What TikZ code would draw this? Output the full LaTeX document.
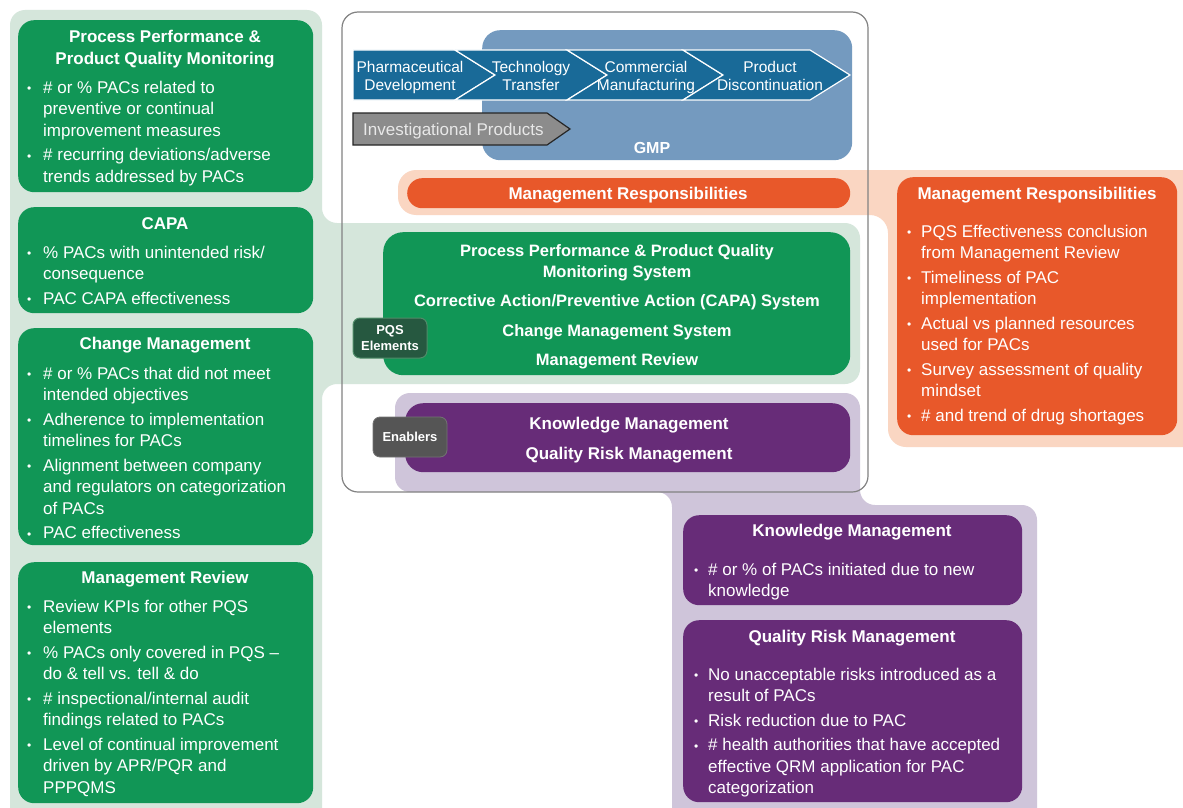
\documentclass[tikz,border=0pt]{standalone}
\usepackage{fontspec}
\setmainfont{Liberation Sans}
\definecolor{dgreen}{RGB}{17,150,86}
\definecolor{lgreen}{RGB}{213,230,219}
\definecolor{dorange}{RGB}{232,88,42}
\definecolor{lorange}{RGB}{250,214,194}
\definecolor{dpurple}{RGB}{103,44,120}
\definecolor{lpurple}{RGB}{207,197,218}
\definecolor{gmpblue}{RGB}{116,154,191}
\definecolor{chevblue}{RGB}{25,106,152}
\definecolor{pqsgreen}{RGB}{38,88,64}
\definecolor{pqsedge}{RGB}{80,140,105}
\definecolor{enagray}{RGB}{85,85,85}
\definecolor{framegray}{RGB}{130,130,130}
\definecolor{invgray}{RGB}{140,140,140}
\definecolor{invtext}{RGB}{232,232,232}
\newcommand{\bu}{\makebox[16pt][l]{\fontsize{12}{12}\selectfont\raisebox{0.5pt}{•}}}
\newcommand{\bur}{\makebox[14pt][l]{\fontsize{12}{12}\selectfont\raisebox{0.5pt}{•}}}
\tikzset{
  rbox/.style={rounded corners=#1, inner sep=0pt, anchor=north west, draw=none},
  wtxt/.style={text=white, inner sep=0pt, anchor=base},
  ttl/.style={wtxt, font=\bfseries\fontsize{17}{21}\selectfont},
  ctr/.style={wtxt, font=\bfseries\fontsize{16.5}{21}\selectfont},
  body/.style={text=white, inner sep=0pt, anchor=base west, font=\fontsize{17}{21.5}\selectfont},
  chevtxt/.style={wtxt, font=\fontsize{15.5}{18}\selectfont},
  chev/.style={fill=chevblue, draw=white, line width=1.2pt, line join=miter},
  tag/.style={rounded corners=7pt, inner sep=0pt, text=white, minimum width=74pt, minimum height=40pt, align=center, font=\bfseries\fontsize{13}{16}\selectfont}
}
\begin{document}
\begin{tikzpicture}[x=1pt,y=-1pt]
\useasboundingbox (0,0) rectangle (1183,808);
\clip (0,0) rectangle (1183,808);
\fill[white] (0,0) rectangle (1183,808);
% background bands
\fill[lgreen, rounded corners=15pt] (10,840) -- (10,10) -- (322,10) -- (322,223) -- (860,223) -- (860,384) -- (322,384) -- (322,840) -- cycle;
\fill[lorange, rounded corners=18pt] (398,170) -- (1210,170) -- (1210,447) -- (888,447) -- (888,215) -- (398,215) -- cycle;
\fill[lpurple, rounded corners=15pt] (395,393) -- (860,393) -- (860,505) -- (1037,505) -- (1037,840) -- (672,840) -- (672,492) -- (395,492) -- cycle;
% frame
\draw[framegray, line width=1.2pt, rounded corners=16pt] (342,12) rectangle (868,492);
% GMP
\node[rbox=18pt, fill=gmpblue, minimum width=370pt, minimum height=130pt] (gmp) at (482,30) {};
\node[wtxt, font=\bfseries\fontsize{16}{19}\selectfont] (gmpl) at (652,153) {GMP};
% chevrons
\path[chev] (353,50) -- (455,50) -- (495,75) -- (455,100) -- (353,100) -- cycle;
\path[chev] (455,50) -- (567,50) -- (607,75) -- (567,100) -- (455,100) -- (495,75) -- cycle;
\path[chev] (567,50) -- (683,50) -- (723,75) -- (683,100) -- (567,100) -- (607,75) -- cycle;
\path[chev] (683,50) -- (810,50) -- (850,75) -- (810,100) -- (683,100) -- (723,75) -- cycle;
\node[chevtxt] (c1) at (410,72.5) {\begin{tabular}[t]{@{}c@{}}Pharmaceutical\\Development\end{tabular}};
\node[chevtxt] (c2) at (531,72.5) {\begin{tabular}[t]{@{}c@{}}Technology\\Transfer\end{tabular}};
\node[chevtxt] (c3) at (646,72.5) {\begin{tabular}[t]{@{}c@{}}Commercial\\Manufacturing\end{tabular}};
\node[chevtxt] (c4) at (770,72.5) {\begin{tabular}[t]{@{}c@{}}Product\\Discontinuation\end{tabular}};
% investigational products
\path[fill=invgray, draw=black!85, line width=1.2pt] (353,113) -- (547,113) -- (570,129) -- (547,145) -- (353,145) -- cycle;
\node[inner sep=0pt, anchor=base west, text=invtext, font=\fontsize{17}{20}\selectfont] (inv) at (363,135) {Investigational Products};
% management responsibilities bar
\node[rbox=15pt, fill=dorange, minimum width=443pt, minimum height=30pt] (mrbar) at (407,178) {};
\node[ttl] (mrbarl) at (628,199) {Management Responsibilities};
% PQS elements box
\node[rbox=20pt, fill=dgreen, minimum width=467pt, minimum height=143pt] (pqs) at (383,232) {};
\node[ctr] (pqsl) at (617,256) {\begin{tabular}[t]{@{}c@{}}Process Performance \& Product Quality\\Monitoring System\\[8pt]Corrective Action/Preventive Action (CAPA) System\\[9pt]Change Management System\\[8pt]Management Review\end{tabular}};
\node[tag, fill=pqsgreen, draw=pqsedge, line width=1pt] (pqstag) at (390,338) {PQS\\Elements};
% enablers box
\node[rbox=18pt, fill=dpurple, minimum width=445pt, minimum height=69pt] (enab) at (405,403) {};
\node[ttl] (enabl) at (629,429) {\begin{tabular}[t]{@{}c@{}}Knowledge Management\\[9pt]Quality Risk Management\end{tabular}};
\node[tag, fill=enagray, draw=black!55, line width=0.8pt] (enabtag) at (410,437) {Enablers};
% left column boxes
\node[rbox=16pt, fill=dgreen, minimum width=295pt, minimum height=172pt] (b1) at (18,20) {};
\node[ttl] (b1t) at (165,43) {\begin{tabular}[t]{@{}c@{}}Process Performance \&\\Product Quality Monitoring\end{tabular}};
\node[body] (b1b) at (27,93) {\begin{tabular}[t]{@{}l@{}l@{}}
\bu & \# or \% PACs related to\\
 & preventive or continual\\
 & improvement measures\\[3pt]
\bu & \# recurring deviations/adverse\\
 & trends addressed by PACs
\end{tabular}};
\node[rbox=16pt, fill=dgreen, minimum width=295pt, minimum height=106pt] (b2) at (18,207) {};
\node[ttl] (b2t) at (165,229) {CAPA};
\node[body] (b2b) at (27,258) {\begin{tabular}[t]{@{}l@{}l@{}}
\bu & \% PACs with unintended risk/\\
 & consequence\\[3pt]
\bu & PAC CAPA effectiveness
\end{tabular}};
\node[rbox=16pt, fill=dgreen, minimum width=295pt, minimum height=217pt] (b3) at (18,328) {};
\node[ttl] (b3t) at (165,349) {Change Management};
\node[body] (b3b) at (27,379) {\begin{tabular}[t]{@{}l@{}l@{}}
\bu & \# or \% PACs that did not meet\\
 & intended objectives\\[3pt]
\bu & Adherence to implementation\\
 & timelines for PACs\\[3pt]
\bu & Alignment between company\\
 & and regulators on categorization\\
 & of PACs\\[3pt]
\bu & PAC effectiveness
\end{tabular}};
\node[rbox=16pt, fill=dgreen, minimum width=295pt, minimum height=241pt] (b4) at (18,562) {};
\node[ttl] (b4t) at (165,583) {Management Review};
\node[body] (b4b) at (27,612) {\begin{tabular}[t]{@{}l@{}l@{}}
\bu & Review KPIs for other PQS\\
 & elements\\[3pt]
\bu & \% PACs only covered in PQS –\\
 & do \& tell vs. tell \& do\\[3pt]
\bu & \# inspectional/internal audit\\
 & findings related to PACs\\[3pt]
\bu & Level of continual improvement\\
 & driven by APR/PQR and\\
 & PPPQMS
\end{tabular}};
% right orange box
\node[rbox=16pt, fill=dorange, minimum width=280pt, minimum height=258pt] (mr) at (897,177) {};
\node[ttl] (mrt) at (1037,199) {Management Responsibilities};
\node[body] (mrb) at (907,237) {\begin{tabular}[t]{@{}l@{}l@{}}
\bur & PQS Effectiveness conclusion\\
 & from Management Review\\[3pt]
\bur & Timeliness of PAC\\
 & implementation\\[3pt]
\bur & Actual vs planned resources\\
 & used for PACs\\[3pt]
\bur & Survey assessment of quality\\
 & mindset\\[3pt]
\bur & \# and trend of drug shortages
\end{tabular}};
% bottom purple boxes
\node[rbox=16pt, fill=dpurple, minimum width=339pt, minimum height=90pt] (km) at (683,515) {};
\node[ttl] (kmt) at (852,536) {Knowledge Management};
\node[body] (kmb) at (694,575) {\begin{tabular}[t]{@{}l@{}l@{}}
\bur & \# or \% of PACs initiated due to new\\
 & knowledge
\end{tabular}};
\node[rbox=16pt, fill=dpurple, minimum width=339pt, minimum height=182pt] (qrm) at (683,620) {};
\node[ttl] (qrmt) at (852,642) {Quality Risk Management};
\node[body] (qrmb) at (694,680) {\begin{tabular}[t]{@{}l@{}l@{}}
\bur & No unacceptable risks introduced as a\\
 & result of PACs\\[3pt]
\bur & Risk reduction due to PAC\\[3pt]
\bur & \# health authorities that have accepted\\
 & effective QRM application for PAC\\
 & categorization
\end{tabular}};
\end{tikzpicture}
\end{document}
